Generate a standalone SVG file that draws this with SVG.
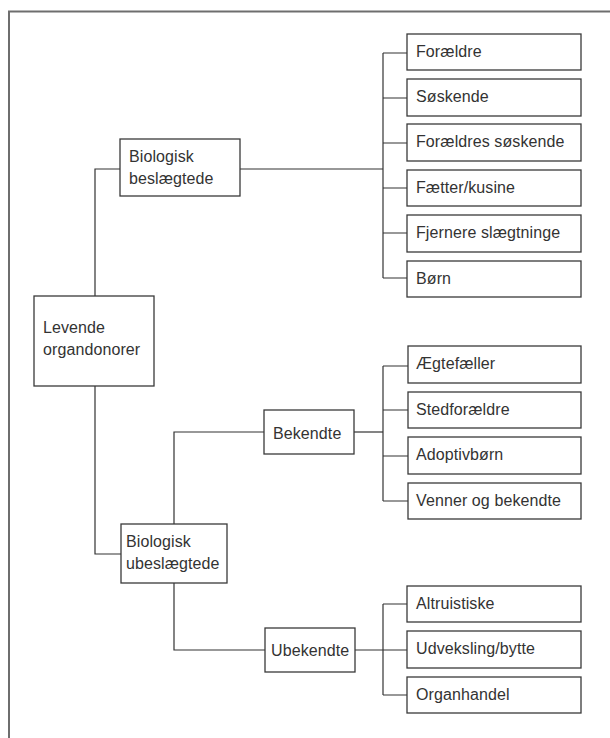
<svg xmlns="http://www.w3.org/2000/svg" width="610" height="738" viewBox="0 0 610 738">
<style>
.bg{fill:#fff}
.frame{fill:none;stroke:#6e6e6e;stroke-width:2}
.box{fill:#fff;stroke:#3a3a3a;stroke-width:1.3}
.con{fill:none;stroke:#333;stroke-width:1.2}
text{font-family:"Liberation Sans",Arial,sans-serif;font-size:16px;fill:#333;letter-spacing:0.1px}
</style>
<rect class="bg" x="0" y="0" width="610" height="738"/>
<path class="frame" d="M9,738 V11.5 H610"/>
<g id="connectors">
<path class="con" d="M95,296 V169 H120"/>
<path class="con" d="M95,386 V554 H121"/>
<path class="con" d="M240,169 H383"/>
<path class="con" d="M383,53 V278"/>
<path class="con" d="M383,53 H407 M383,98 H407 M383,143 H407 M383,188 H407 M383,233 H407 M383,278 H407"/>
<path class="con" d="M174,524 V432 H264"/>
<path class="con" d="M174,583 V650 H265"/>
<path class="con" d="M354,432 H383"/>
<path class="con" d="M383,366 V501"/>
<path class="con" d="M383,366 H408 M383,410 H408 M383,456 H408 M383,501 H408"/>
<path class="con" d="M355,650 H407"/>
<path class="con" d="M383,604 V695"/>
<path class="con" d="M383,604 H407 M383,695 H407"/>
</g>
<g id="levende">
<rect class="box" x="34" y="296" width="120" height="90"/>
<text x="43" y="333">Levende</text>
<text x="43" y="355">organdonorer</text>
</g>
<g id="beslaegtede">
<rect class="box" x="120" y="139" width="120" height="57"/>
<text x="129" y="162">Biologisk</text>
<text x="129" y="184">beslægtede</text>
</g>
<g id="ubeslaegtede">
<rect class="box" x="121" y="524" width="106" height="59"/>
<text x="126" y="547">Biologisk</text>
<text x="126" y="569">ubeslægtede</text>
</g>
<g id="bekendte">
<rect class="box" x="264" y="410" width="90" height="44"/>
<text x="273" y="439">Bekendte</text>
</g>
<g id="ubekendte">
<rect class="box" x="265" y="628" width="90" height="44"/>
<text x="271" y="656">Ubekendte</text>
</g>
<g id="foraeldre">
<rect class="box" x="407" y="34" width="174" height="36"/>
<text x="416" y="57">Forældre</text>
</g>
<g id="soskende">
<rect class="box" x="407" y="79" width="174" height="37"/>
<text x="416" y="102">Søskende</text>
</g>
<g id="foraeldres-soskende">
<rect class="box" x="407" y="124" width="174" height="37"/>
<text x="416" y="147">Forældres søskende</text>
</g>
<g id="faetter">
<rect class="box" x="407" y="170" width="174" height="36"/>
<text x="416" y="193">Fætter/kusine</text>
</g>
<g id="fjernere">
<rect class="box" x="407" y="215" width="174" height="37"/>
<text x="416" y="238">Fjernere slægtninge</text>
</g>
<g id="born">
<rect class="box" x="407" y="261" width="174" height="36"/>
<text x="416" y="284">Børn</text>
</g>
<g id="aegtefaeller">
<rect class="box" x="408" y="346" width="173" height="37"/>
<text x="416" y="369">Ægtefæller</text>
</g>
<g id="stedforaeldre">
<rect class="box" x="408" y="392" width="173" height="36"/>
<text x="416" y="415">Stedforældre</text>
</g>
<g id="adoptivborn">
<rect class="box" x="408" y="437" width="173" height="37"/>
<text x="416" y="460">Adoptivbørn</text>
</g>
<g id="venner">
<rect class="box" x="408" y="483" width="173" height="36"/>
<text x="416" y="506">Venner og bekendte</text>
</g>
<g id="altruistiske">
<rect class="box" x="407" y="586" width="174" height="36"/>
<text x="416" y="609">Altruistiske</text>
</g>
<g id="udveksling">
<rect class="box" x="407" y="631" width="174" height="37"/>
<text x="416" y="654">Udveksling/bytte</text>
</g>
<g id="organhandel">
<rect class="box" x="407" y="677" width="174" height="36"/>
<text x="416" y="700">Organhandel</text>
</g>
</svg>
